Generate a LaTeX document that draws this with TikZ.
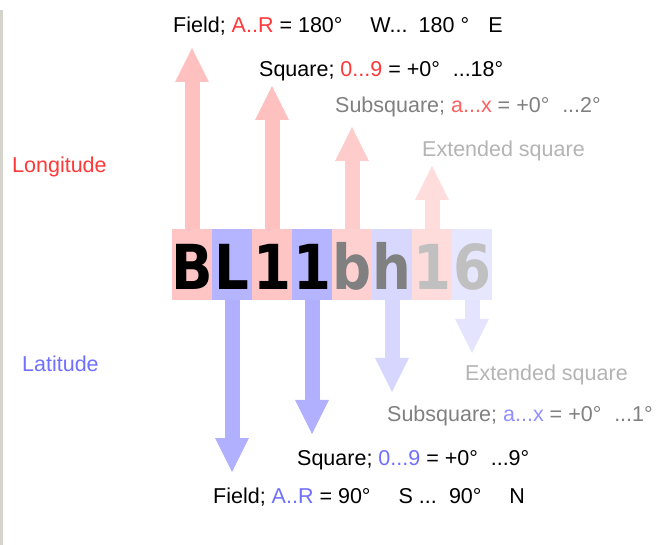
\documentclass[tikz,border=0pt]{standalone}
\usepackage{fontspec}
\setmainfont{Liberation Sans}
\newfontfamily\bigfont{DejaVu Sans}
\usetikzlibrary{arrows.meta}
\definecolor{edgegray}{HTML}{D4D4CC}
\definecolor{redA}{HTML}{FFC4C4}
\definecolor{redB}{HTML}{FFD0D0}
\definecolor{redC}{HTML}{FFDCDC}
\definecolor{blueA}{HTML}{B4B4FF}
\definecolor{blueB}{HTML}{D8D8FF}
\definecolor{blueC}{HTML}{E6E6FF}
\definecolor{upA}{HTML}{FFC0C0}
\definecolor{upB}{HTML}{FFCCCC}
\definecolor{upC}{HTML}{FFDDDD}
\definecolor{dnA}{HTML}{B0B0FF}
\definecolor{dnB}{HTML}{D6D6FF}
\definecolor{dnC}{HTML}{E4E4FF}
\definecolor{txtred}{HTML}{FF3838}
\definecolor{txtredL}{HTML}{FF6060}
\definecolor{txtblue}{HTML}{7070FF}
\definecolor{txtblueL}{HTML}{9090FF}
\definecolor{gmid}{HTML}{808080}
\definecolor{glight}{HTML}{B4B4B4}
\definecolor{glyphlight}{HTML}{C0C0C0}
\begin{document}
\begin{tikzpicture}[x=1pt,y=-1pt,
  cell/.style={minimum width=40pt,minimum height=71pt,inner sep=0pt,outer sep=0pt,draw=none},
  glyph/.style={font=\bigfont\bfseries\fontsize{62}{62}\selectfont,inner sep=0pt,anchor=base},
  lbl/.style={font=\fontsize{21.5}{24}\selectfont,inner sep=0pt,anchor=base west},
  fat/.style={line width=15pt,line cap=butt,-{Triangle[width=31pt,length=35pt]}}]
\useasboundingbox (0,0) rectangle (667,545);
\fill[white] (0,0) rectangle (667,545);
\fill[edgegray] (0,10) rectangle (3,545);

% cells
\node[cell,fill=redA]  (c0) at (192,264.5) {};
\node[cell,fill=blueA] (c1) at (232,264.5) {};
\node[cell,fill=redA]  (c2) at (272,264.5) {};
\node[cell,fill=blueA] (c3) at (312,264.5) {};
\node[cell,fill=redB]  (c4) at (352,264.5) {};
\node[cell,fill=blueB] (c5) at (392,264.5) {};
\node[cell,fill=redC]  (c6) at (432,264.5) {};
\node[cell,fill=blueC] (c7) at (472,264.5) {};

% arrow tips
\coordinate (t0) at (192,47);
\coordinate (t2) at (272,85);
\coordinate (t4) at (352,126);
\coordinate (t6) at (432,165);
\coordinate (t1) at (232,473);
\coordinate (t3) at (312,435);
\coordinate (t5) at (392,393);
\coordinate (t7) at (472,354);

\draw[fat,upA] (c0.north) -- (t0);
\draw[fat,upA] (c2.north) -- (t2);
\draw[fat,upB] (c4.north) -- (t4);
\draw[fat,upC] (c6.north) -- (t6);
\draw[fat,dnA] (c1.south) -- (t1);
\draw[fat,dnA] (c3.south) -- (t3);
\draw[fat,dnB] (c5.south) -- (t5);
\draw[fat,dnC] (c7.south) -- (t7);

% glyphs
\node[glyph] (g0) at (192,290) {\scalebox{0.88}[1]{B}};
\node[glyph] (g1) at (232,290) {\scalebox{0.88}[1]{L}};
\node[glyph] (g2) at (272,290) {\scalebox{0.88}[1]{1}};
\node[glyph] (g3) at (312,290) {\scalebox{0.88}[1]{1}};
\node[glyph,text=gmid] (g4) at (352,290) {\scalebox{0.88}[1]{b}};
\node[glyph,text=gmid] (g5) at (392,290) {\scalebox{0.88}[1]{h}};
\node[glyph,text=glyphlight] (g6) at (432,290) {\scalebox{0.88}[1]{1}};
\node[glyph,text=glyphlight] (g7) at (472,290) {\scalebox{0.88}[1]{6}};

% labels
\node[lbl] (lon) at (12,173) {\textcolor{txtred}{Longitude}};
\node[lbl] (lat) at (22,372) {\textcolor{txtblue}{Latitude}};

\node[lbl] (fieldU) at (173,33) {Field; \textcolor{txtred}{A..R} = 180°\hspace{1.3em}W... \hspace{0.15em}180 °\hspace{0.9em}E};
\node[lbl] (squareU) at (259,77) {Square; \textcolor{txtred}{0...9} = +0°\hspace{0.6em}...18°};
\node[lbl,text=gmid] (subU) at (335,113) {Subsquare; \textcolor{txtredL}{a...x} = +0°\hspace{0.6em}...2°};
\node[lbl,text=glight] (extU) at (422,157) {Extended square};

\node[lbl,text=glight] (extD) at (465,381) {Extended square};
\node[lbl,text=gmid] (subD) at (387,421) {Subsquare; \textcolor{txtblueL}{a...x} = +0°\hspace{0.6em}...1°};
\node[lbl] (squareD) at (297,465) {Square; \textcolor{txtblue}{0...9} = +0°\hspace{0.6em}...9°};
\node[lbl] (fieldD) at (213,503) {Field; \textcolor{txtblue}{A..R} = 90°\hspace{1.3em}S ... \hspace{0.2em}90°\hspace{1.3em}N};
\end{tikzpicture}
\end{document}
